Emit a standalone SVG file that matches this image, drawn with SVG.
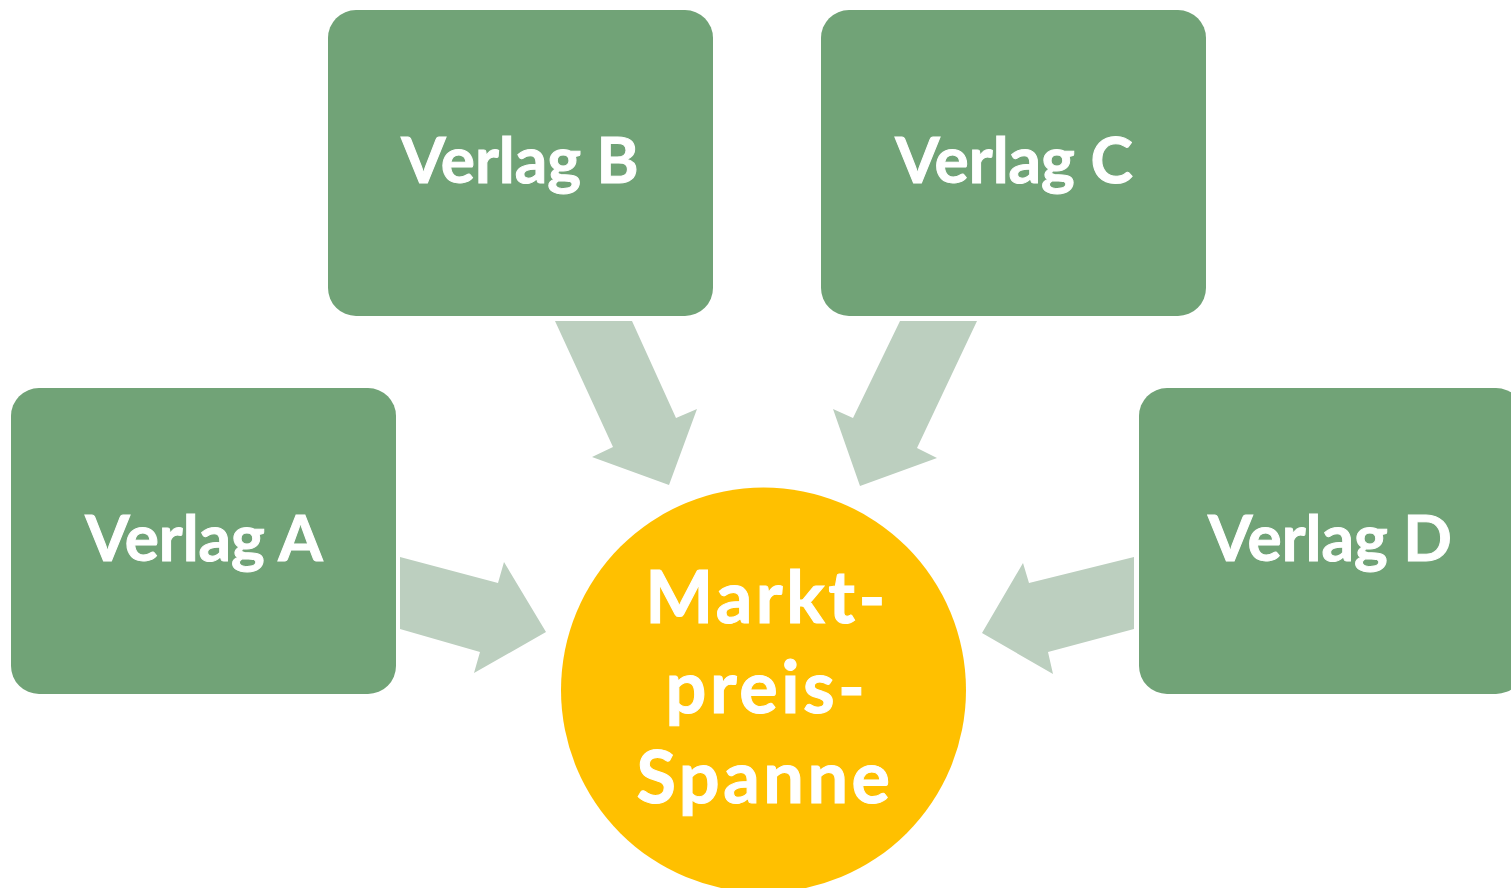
<svg xmlns="http://www.w3.org/2000/svg" width="1511" height="888" viewBox="0 0 1511 888">
<style>
.box{fill:#71A377;}
.arr{fill:#BCCFBF;}
.lbl{font-family:Lato,"Open Sans",sans-serif;font-weight:bold;font-size:64px;fill:#fff;stroke:#fff;stroke-width:1;text-anchor:middle;}
.clbl{font-family:Lato,"Open Sans",sans-serif;font-weight:bold;font-size:72px;letter-spacing:3.5px;fill:#fff;stroke:#fff;stroke-width:1;text-anchor:middle;}
</style>
<rect width="1511" height="888" fill="#fff"/>
<g id="connectors">
<polygon class="arr" points="400,557 498,583 504,562 546,632 474,673 480,652 400,629"/>
<polygon class="arr" points="555,321 632,321 676,418 697,409 669,485 592,457 613,447"/>
<polygon class="arr" points="977,321 900,321 853,418 833,409 860,486 937,458 917,448"/>
<polygon class="arr" points="1134,557 1029,583 1023,563 982,633 1053,674 1048,652 1134,629"/>
</g>
<g id="verlagA">
<rect class="box" x="11" y="388" width="385" height="306" rx="28"/>
<text class="lbl" x="204" y="561">Verlag A</text>
</g>
<g id="verlagB">
<rect class="box" x="328" y="10" width="385" height="306" rx="28"/>
<text class="lbl" x="520" y="183">Verlag B</text>
</g>
<g id="verlagC">
<rect class="box" x="821" y="10" width="385" height="306" rx="28"/>
<text class="lbl" x="1014" y="183">Verlag C</text>
</g>
<g id="verlagD">
<rect class="box" x="1139" y="388" width="385" height="306" rx="28"/>
<text class="lbl" x="1330" y="561">Verlag D</text>
</g>
<g id="marktpreis">
<circle cx="763.5" cy="690" r="202.5" fill="#FFC000"/>
<text class="clbl" x="767" y="623">Markt-</text>
<text class="clbl" x="767" y="713">preis-</text>
<text class="clbl" x="765" y="803">Spanne</text>
</g>
</svg>
